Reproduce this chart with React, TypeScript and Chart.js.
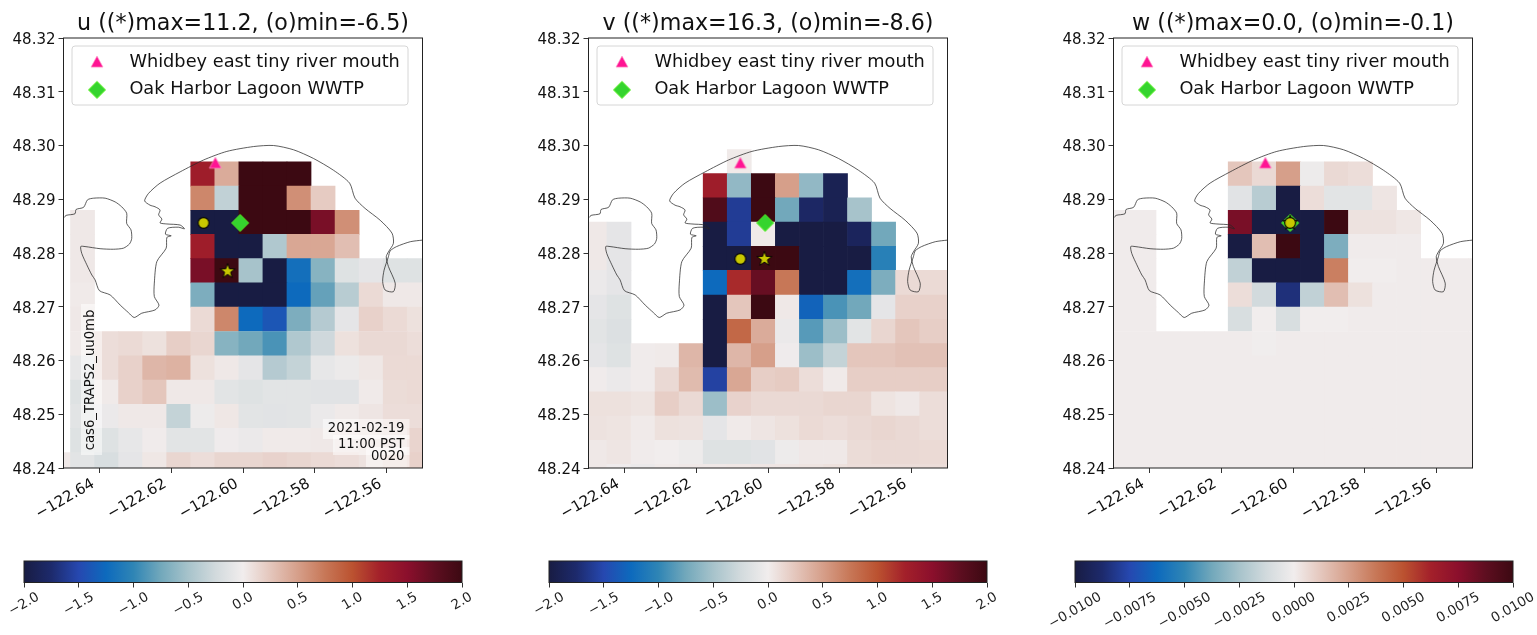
import React, { useEffect, useRef } from "react";
import { Chart, registerables } from "chart.js";

Chart.register(...registerables);

const _ = null;

// grid-cell centres
const lonsU = [-122.6514, -122.6447, -122.638, -122.6313, -122.6246, -122.6179, -122.6112, -122.6045, -122.5978, -122.5911, -122.5844, -122.5777, -122.571, -122.5643, -122.5576, -122.5509];
const latsU = [48.2947, 48.2902, 48.2857, 48.2812, 48.2767, 48.2722, 48.2677, 48.2631, 48.2586, 48.2541, 48.2496, 48.2451, 48.2406];
const lonsV = [-122.6482, -122.6415, -122.6348, -122.6281, -122.6214, -122.6147, -122.608, -122.6013, -122.5946, -122.5879, -122.5812, -122.5745, -122.5678, -122.5611, -122.5544, -122.5477];
const latsV = [48.297, 48.2925, 48.288, 48.2835, 48.279, 48.2745, 48.2699, 48.2654, 48.2609, 48.2564, 48.2519, 48.2474, 48.2429, 48.2384];

const uCells = [
  [_, _, _, _, _, _, 1.3, 0.42, 2, 2, 2, _, _, _, _, _],
  [_, _, _, _, _, _, 0.65, -0.35, 2, 2, 0.6, 0.22, _, _, _, _],
  [_, 0.03, _, _, _, _, -2, -2, 2, 2, 2, 1.6, 0.6, _, _, _],
  [_, 0.03, _, _, _, _, 1.3, -2, -2, -0.45, 0.45, 0.45, 0.3, _, _, _],
  [_, 0.03, _, _, _, _, 1.6, 2, -0.5, -2, -1.2, -0.65, -0.15, -0.1, -0.15, -0.15],
  [_, 0.02, _, _, _, _, -0.7, -2, -2, -2, -1.25, -0.8, -0.4, 0.12, 0.03, 0.03],
  [_, 0.03, _, _, _, _, 0.12, 0.65, -1.25, -1.4, -0.7, -0.42, -0.1, 0.18, 0.12, 0.08],
  [_, 0.02, 0.1, 0.12, 0.08, 0.2, 0.15, -0.65, -0.75, -0.9, -0.45, -0.27, 0.08, 0.13, 0.13, 0.1],
  [_, -0.08, 0.1, 0.18, 0.35, 0.38, 0.08, 0.03, -0.1, -0.42, -0.33, -0.08, -0.04, 0.04, 0.12, 0.12],
  [_, -0.15, 0.02, 0.18, 0.25, 0.03, 0.03, -0.12, -0.15, -0.12, -0.12, -0.13, -0.13, 0.02, 0.11, 0.12],
  [_, -0.12, -0.05, 0.03, 0.03, -0.33, -0.03, 0.04, -0.12, -0.13, -0.12, -0.05, 0.02, 0.05, 0.1, 0.1],
  [_, -0.15, -0.15, -0.08, 0.01, -0.12, -0.12, -0.02, -0.05, 0.02, 0.02, 0.03, 0.05, 0.07, 0.08, 0.16],
  [0.03, -0.12, -0.2, -0.1, 0.04, 0.15, 0.1, 0.15, 0.15, 0.17, 0.15, 0.12, 0.1, 0.07, 0.12, 0.18],
];

const vCells = [
  [_, _, _, _, _, _, 0.02, _, _, _, _, _, _, _, _, _],
  [_, _, _, _, _, 1.3, -0.6, 2, 0.5, -0.6, -1.9, _, _, _, _, _],
  [_, _, _, _, _, 1.85, -1.6, 2, -0.75, -1.8, -1.9, -0.5, _, _, _, _],
  [0.03, -0.1, _, _, _, -2, -1.6, 0.02, -2, -2, -2, -1.85, -0.75, _, _, _],
  [0.03, -0.1, _, _, _, -2, -2, 2, 2, -2, -2, -2, -1.05, _, _, _],
  [-0.05, -0.1, _, _, _, -1.25, 1.2, 1.7, 0.75, -2, -2, -1.2, -0.7, 0.12, 0.12, 0.12],
  [-0.1, -0.15, _, _, _, -2, 0.25, 2, 0.03, -1.3, -0.9, -0.75, -0.1, 0.18, 0.18, 0.18],
  [-0.12, -0.17, _, _, _, -2, 0.85, 0.42, -0.05, -0.85, -0.55, -0.12, 0.15, 0.25, 0.2, 0.2],
  [-0.1, -0.15, 0.01, 0.02, 0.35, -2, 0.35, 0.5, -0.02, -0.55, -0.33, 0.25, 0.25, 0.28, 0.28, 0.28],
  [0.01, -0.05, 0.01, 0.13, 0.32, -1.55, 0.45, 0.2, 0.22, 0.1, 0.02, 0.2, 0.2, 0.2, 0.2, 0.2],
  [0.08, 0.08, 0.06, 0.2, 0.13, -0.55, 0.17, 0.13, 0.13, 0.13, 0.15, 0.15, 0.06, 0.03, 0.1, 0.1],
  [0.07, 0.06, 0.02, 0.08, 0.07, -0.1, 0.02, 0.05, 0.08, 0.12, 0.1, 0.13, 0.15, 0.13, 0.1, 0.1],
  [0.03, 0.05, 0.01, 0.0, -0.03, -0.15, -0.15, -0.13, -0.03, 0.03, 0.03, 0.11, 0.13, 0.13, 0.12, 0.12],
  [0.03, -0.02, -0.05, 0.02, 0.03, 0.03, 0.04, 0.05, 0.05, 0.06, 0.08, 0.1, 0.1, 0.1, 0.1, 0.1],
];

const b = 0.00005; // the near-zero background of the w panel
const wCells = [
  [_, _, _, _, _, 0.00125, 0.00065, 0.0025, -0.00015, 0.00065, 0.0005, _, _, _, _, _],
  [_, _, _, _, _, -0.00065, -0.002, -0.01, 0.0005, -0.0006, -0.0006, 0.00025, _, _, _, _],
  [b, b, _, _, _, 0.008, -0.01, -0.01, -0.01, 0.01, 0.00035, 0.00035, 0.0002, _, _, _],
  [b, b, _, _, _, -0.01, 0.0015, 0.01, -0.01, -0.0035, b, b, b, _, _, _],
  [b, b, _, _, _, -0.00175, -0.01, -0.01, -0.01, 0.0035, 0.0, -0.00002, b, b, b, b],
  [b, b, _, _, _, 0.0005, -0.00125, -0.0085, -0.00175, 0.0015, 0.0004, b, b, b, b, b],
  [b, b, _, _, _, -0.001, 0.0, -0.001, 0.0, 0.0, b, b, b, b, b, b],
  [b, b, b, b, b, b, -0.00003, b, b, b, b, b, b, b, b, b],
  [b, b, b, b, b, b, b, b, b, b, b, b, b, b, b, b],
  [b, b, b, b, b, b, b, b, b, b, b, b, b, b, b, b],
  [b, b, b, b, b, b, b, b, b, b, b, b, b, b, b, b],
  [b, b, b, b, b, b, b, b, b, b, b, b, b, b, b, b],
  [b, b, b, b, b, b, b, b, b, b, b, b, b, b, b, b],
];

const coastLon = [-122.6498, -122.6493, -122.6468, -122.6465, -122.6444, -122.6433, -122.6416, -122.6384, -122.6356, -122.6338, -122.6324, -122.6324, -122.6312, -122.631, -122.6316, -122.6333, -122.6361, -122.6398, -122.644, -122.6452, -122.6449, -122.6435, -122.6421, -122.6412, -122.64, -122.637, -122.6342, -122.6319, -122.6303, -122.6282, -122.6245, -122.6234, -122.6247, -122.6247, -122.624, -122.6214, -122.6212, -122.62, -122.6216, -122.621, -122.618, -122.6163, -122.6175, -122.6212, -122.6231, -122.6226, -122.6235, -122.6231, -122.6245, -122.6259, -122.6274, -122.6263, -122.6231, -122.6175, -122.611, -122.6045, -122.5971, -122.5915, -122.5859, -122.5804, -122.5748, -122.5703, -122.5688, -122.566, -122.5618, -122.5585, -122.5581, -122.5595, -122.5601, -122.5595, -122.5576, -122.5581, -122.5604, -122.5611, -122.5607, -122.5595, -122.559, -122.5572, -122.5534, -122.55];
const coastLat = [48.2866, 48.287, 48.2873, 48.2881, 48.2885, 48.2899, 48.2902, 48.2902, 48.2895, 48.2886, 48.2874, 48.2855, 48.2843, 48.2827, 48.2817, 48.2809, 48.2807, 48.2808, 48.2812, 48.2812, 48.2799, 48.2778, 48.2759, 48.275, 48.273, 48.2722, 48.2703, 48.2689, 48.268, 48.2688, 48.2694, 48.2703, 48.2719, 48.2744, 48.2784, 48.2809, 48.2829, 48.2832, 48.2835, 48.2846, 48.2848, 48.2845, 48.2852, 48.2854, 48.2856, 48.2863, 48.2871, 48.288, 48.2886, 48.2889, 48.2897, 48.2911, 48.293, 48.2951, 48.2973, 48.2989, 48.2998, 48.3, 48.2992, 48.2976, 48.2954, 48.293, 48.2902, 48.2883, 48.2861, 48.2837, 48.2818, 48.2802, 48.2793, 48.2775, 48.2744, 48.2728, 48.2731, 48.2747, 48.2768, 48.2793, 48.2804, 48.2812, 48.2821, 48.2824];

const riverPoint = { x: -122.6077, y: 48.2967 };
const wwtpPoint = { x: -122.6008, y: 48.2856 };
const maxPoints = [{ x: -122.6043, y: 48.2766 }, { x: -122.601, y: 48.2789 }, { x: -122.6008, y: 48.2856 }];
const minPoints = [{ x: -122.611, y: 48.2856 }, { x: -122.6077, y: 48.2789 }, { x: -122.6008, y: 48.2856 }];

const titles = ["u ((*)max=11.2, (o)min=-6.5)", "v ((*)max=16.3, (o)min=-8.6)", "w ((*)max=0.0, (o)min=-0.1)"];
const legendNames = ["Whidbey east tiny river mouth", "Oak Harbor Lagoon WWTP"];
const lonTicks = [-122.64, -122.62, -122.6, -122.58, -122.56];
const latTicks = [48.24, 48.25, 48.26, 48.27, 48.28, 48.29, 48.3, 48.31, 48.32];
const cbarTicksUV = [-2, -1.5, -1, -0.5, 0, 0.5, 1, 1.5, 2];
const cbarTicksW = [-0.01, -0.0075, -0.005, -0.0025, 0, 0.0025, 0.005, 0.0075, 0.01];
const runNote = "cas6_TRAPS2_uu0mb";
const stampLines = ["2021-02-19", "11:00 PST", "0020"];

// balance-like colour map, evenly spaced from -1 to +1
const cmap = ["#181c43", "#1d2a6c", "#2648b0", "#0d6abd", "#2f85b5", "#72a8bb", "#a7c3cb", "#d2dadd", "#f1eded", "#e4c6bc", "#d69f8a", "#c77757", "#bb5230", "#a3202a", "#8b0f2c", "#5e0e20", "#3c0912"];

const FONT = '"DejaVu Sans"';
const HALF_LAT = 0.00226;

function hexRgb(h: string) {
  return [1, 3, 5].map((i) => parseInt(h.slice(i, i + 2), 16));
}
function colorOf(t: number) {
  const p = ((Math.max(-1, Math.min(1, t)) + 1) / 2) * (cmap.length - 1);
  const i = Math.min(cmap.length - 2, Math.floor(p));
  const f = p - i;
  const a = hexRgb(cmap[i]);
  const c = hexRgb(cmap[i + 1]);
  return `rgb(${a.map((v, k) => Math.round(v + (c[k] - v) * f)).join(",")})`;
}

function markerCanvas(kind: "triangle" | "diamond" | "star" | "circle") {
  const c = document.createElement("canvas");
  c.width = 24;
  c.height = 24;
  const g = c.getContext("2d")!;
  g.translate(12, 12);
  g.beginPath();
  if (kind === "triangle") {
    g.moveTo(0, -6);
    g.lineTo(6, 5);
    g.lineTo(-6, 5);
    g.closePath();
    g.fillStyle = "#ff1493";
    g.fill();
    g.strokeStyle = "rgba(255,150,200,0.7)";
    g.lineWidth = 1;
    g.stroke();
  } else if (kind === "diamond") {
    g.moveTo(0, -8.5);
    g.lineTo(8.5, 0);
    g.lineTo(0, 8.5);
    g.lineTo(-8.5, 0);
    g.closePath();
    g.fillStyle = "#35d42e";
    g.fill();
    g.strokeStyle = "#55f020";
    g.lineWidth = 1;
    g.stroke();
  } else if (kind === "star") {
    for (let i = 0; i < 10; i++) {
      const r = i % 2 ? 3.1 : 7.8;
      const a = (i * Math.PI) / 5;
      g.lineTo(Math.sin(a) * r, -Math.cos(a) * r);
    }
    g.closePath();
    g.fillStyle = "#c8c800";
    g.fill();
    g.strokeStyle = "#000";
    g.lineWidth = 0.9;
    g.stroke();
  } else {
    g.arc(0, 0, 5.4, 0, Math.PI * 2);
    g.fillStyle = "#c8c800";
    g.fill();
    g.strokeStyle = "#000";
    g.lineWidth = 1.1;
    g.stroke();
  }
  return c;
}

const frame = {
  id: "frame",
  afterDraw(chart: any) {
    const { ctx, chartArea: a } = chart;
    ctx.save();
    ctx.strokeStyle = "#222";
    ctx.lineWidth = 1;
    ctx.strokeRect(a.left, a.top, a.right - a.left, a.bottom - a.top);
    ctx.restore();
  },
};

const legendBox = {
  id: "legendBox",
  beforeDraw(chart: any) {
    const { ctx, chartArea: a } = chart;
    ctx.save();
    ctx.beginPath();
    ctx.roundRect(a.left + 8.5, a.top + 8, 336, 59, 3);
    ctx.fillStyle = "#fff";
    ctx.fill();
    ctx.strokeStyle = "#d6d6d6";
    ctx.lineWidth = 1;
    ctx.stroke();
    ctx.restore();
  },
};

const notes = {
  id: "notes",
  afterDatasetsDraw(chart: any) {
    const { ctx, chartArea: a } = chart;
    ctx.save();
    ctx.font = `13.2px ${FONT}`;
    ctx.fillStyle = "rgba(255,255,255,0.5)";
    ctx.fillRect(a.left + 17.5, a.top + 266, 21, 151);
    ctx.save();
    ctx.translate(a.left + 27.5, a.top + 342);
    ctx.rotate(-Math.PI / 2);
    ctx.fillStyle = "#111";
    ctx.textAlign = "center";
    ctx.textBaseline = "middle";
    ctx.fillText(runNote, 0, 0);
    ctx.restore();
    const ys = [391, 407, 419];
    stampLines.forEach((t, i) => {
      const w = ctx.measureText(t).width;
      ctx.fillStyle = "rgba(255,255,255,0.5)";
      ctx.fillRect(a.right - 18 - w - 5, a.top + ys[i] - 10, w + 10, 20);
    });
    stampLines.forEach((t, i) => {
      ctx.fillStyle = "#111";
      ctx.textAlign = "right";
      ctx.textBaseline = "middle";
      ctx.fillText(t, a.right - 18, a.top + ys[i]);
    });
    ctx.restore();
  },
};

const cbarLabels = {
  id: "cbarLabels",
  afterDraw(chart: any) {
    const { ctx } = chart;
    const s = chart.scales.x;
    const dec = chart.options.plugins.cbarLabels.decimals;
    ctx.save();
    ctx.font = `13.5px ${FONT}`;
    ctx.fillStyle = "#222";
    ctx.textAlign = "center";
    ctx.textBaseline = "middle";
    const ang = Math.PI / 6;
    s.ticks.forEach((t: any) => {
      const text = (t.value < 0 ? "\u2212" : "") + Math.abs(t.value).toFixed(dec);
      const w = ctx.measureText(text).width;
      const h = w * Math.sin(ang) + 13 * Math.cos(ang);
      ctx.save();
      ctx.translate(s.getPixelForValue(t.value), chart.chartArea.bottom + 8 + h / 2);
      ctx.rotate(-ang);
      ctx.fillText(text, 0, 0);
      ctx.restore();
    });
    ctx.restore();
  },
};

function cellData(lons: number[], lats: number[], cells: (number | null)[][], limit: number) {
  const out: any[] = [];
  cells.forEach((row, j) =>
    row.forEach((v, i) => {
      if (v !== null) out.push({ x: lons[i], y: [lats[j] - HALF_LAT, lats[j] + HALF_LAT], c: colorOf(v / limit) });
    })
  );
  return out;
}

const panelData = [
  { lons: lonsU, lats: latsU, cells: uCells, limit: 2, ticks: cbarTicksUV, dec: 1 },
  { lons: lonsV, lats: latsV, cells: vCells, limit: 2, ticks: cbarTicksUV, dec: 1 },
  { lons: lonsV, lats: latsU, cells: wCells, limit: 0.01, ticks: cbarTicksW, dec: 4 },
];

const panelLeft = [0, 525, 1050];
const cbarPad = [24, 24, 25];

function mainChart(canvas: HTMLCanvasElement, k: number) {
  const p = panelData[k];
  const coast = coastLon.map((x, i) => ({ x, y: coastLat[i] }));
  return new Chart(canvas, {
    type: "bar",
    data: {
      datasets: [
        {
          label: "cells",
          data: cellData(p.lons, p.lats, p.cells, p.limit),
          backgroundColor: (c: any) => c.raw?.c,
          borderWidth: 0,
          grouped: false,
          categoryPercentage: 1,
          barPercentage: 1,
          order: 5,
        },
        { type: "line", label: "coast", data: coast, borderColor: "rgba(40,40,40,0.75)", borderWidth: 1, pointRadius: 0, tension: 0.25, order: 4 },
        { type: "scatter", label: legendNames[0], data: [riverPoint], pointStyle: markerCanvas("triangle"), backgroundColor: "#ff1493", order: 3 },
        { type: "scatter", label: legendNames[1], data: [wwtpPoint], pointStyle: markerCanvas("diamond"), backgroundColor: "#35d42e", order: 2 },
        { type: "scatter", label: "max", data: [maxPoints[k]], pointStyle: markerCanvas("star"), order: 1 },
        { type: "scatter", label: "min", data: [minPoints[k]], pointStyle: markerCanvas("circle"), order: 0 },
      ] as any,
    },
    options: {
      animation: false,
      responsive: false,
      layout: { padding: { left: 0, right: 63.5, top: 0, bottom: 0 } },
      scales: {
        x: {
          type: "linear",
          min: -122.65,
          max: -122.55,
          offset: false,
          grid: { drawOnChartArea: false, tickLength: 5, tickColor: "#333", offset: false },
          border: { display: false },
          afterBuildTicks: (s: any) => {
            s.ticks = lonTicks.map((value) => ({ value }));
          },
          afterFit: (s: any) => {
            s.height = 72;
          },
          ticks: {
            minRotation: 30,
            maxRotation: 30,
            padding: 2,
            labelOffset: -6,
            color: "#111",
            font: { family: FONT, size: 15 },
            callback: (v: any) => "\u2212" + Math.abs(v).toFixed(2),
          },
        },
        y: {
          type: "linear",
          min: 48.24,
          max: 48.32,
          grid: { drawOnChartArea: false, tickLength: 5, tickColor: "#333" },
          border: { display: false },
          afterBuildTicks: (s: any) => {
            s.ticks = latTicks.map((value) => ({ value }));
          },
          afterFit: (s: any) => {
            s.width = 63.5;
          },
          ticks: { padding: 3, labelOffset: 2, color: "#111", font: { family: FONT, size: 15 }, callback: (v: any) => Number(v).toFixed(2) },
        },
      },
      plugins: {
        tooltip: { enabled: false },
        title: {
          display: true,
          text: titles[k],
          color: "#111",
          fullSize: false,
          font: { family: FONT, size: 22.2, weight: "normal" },
          padding: { top: 11, bottom: 0.36 },
        },
        legend: {
          position: "chartArea",
          align: "start",
          title: { display: true, text: " ", font: { size: 1 }, padding: { top: 21, bottom: 21 } },
          labels: {
            usePointStyle: true,
            pointStyleWidth: 47,
            padding: 10,
            color: "#111",
            font: { family: FONT, size: 17.75 },
            filter: (it: any) => legendNames.includes(it.text),
            sort: (a: any, c: any) => a.datasetIndex - c.datasetIndex,
          },
        },
      } as any,
    },
    plugins: k === 0 ? [legendBox, frame, notes] : [legendBox, frame],
  } as any);
}

function cbarChart(canvas: HTMLCanvasElement, k: number) {
  const p = panelData[k];
  const lim = p.ticks[p.ticks.length - 1];
  return new Chart(canvas, {
    type: "bar",
    data: {
      labels: [""],
      datasets: [
        {
          data: [[-lim, lim]],
          borderWidth: 0,
          inflateAmount: 0,
          categoryPercentage: 1,
          barPercentage: 1,
          backgroundColor: (c: any) => {
            const a = c.chart.chartArea;
            if (!a) return "#888";
            const g = c.chart.ctx.createLinearGradient(a.left, 0, a.right, 0);
            cmap.forEach((col, i) => g.addColorStop(i / (cmap.length - 1), col));
            return g;
          },
        },
      ],
    },
    options: {
      indexAxis: "y",
      animation: false,
      responsive: false,
      layout: { padding: { left: cbarPad[k], right: 48 - cbarPad[k], top: 16, bottom: 0 } },
      scales: {
        x: {
          type: "linear",
          min: -lim,
          max: lim,
          grid: { drawOnChartArea: false, tickLength: 5, tickColor: "#333" },
          border: { display: false },
          afterBuildTicks: (s: any) => {
            s.ticks = p.ticks.map((value) => ({ value }));
          },
          afterFit: (s: any) => {
            s.height = 52.5;
          },
          ticks: { display: false },
        },
        y: { display: false },
      },
      plugins: { legend: { display: false }, tooltip: { enabled: false }, cbarLabels: { decimals: p.dec } },
    } as any,
    plugins: [frame, cbarLabels],
  } as any);
}

export default function App() {
  const mains = useRef<(HTMLCanvasElement | null)[]>([]);
  const bars = useRef<(HTMLCanvasElement | null)[]>([]);
  useEffect(() => {
    document.body.style.margin = "0";
    const charts = [0, 1, 2].flatMap((k) => [mainChart(mains.current[k]!, k), cbarChart(bars.current[k]!, k)]);
    return () => charts.forEach((c) => c.destroy());
  }, []);
  const soft = "blur(0.35px)";
  return (
    <div style={{ position: "relative", width: 1537, height: 635, overflow: "hidden", background: "#fff" }}>
      {panelLeft.map((left, k) => (
        <React.Fragment key={k}>
          <canvas ref={(el) => { mains.current[k] = el; }} width={486} height={540} style={{ position: "absolute", left, top: 0, filter: soft }} />
          <canvas ref={(el) => { bars.current[k] = el; }} width={486} height={90} style={{ position: "absolute", left, top: 545, filter: soft }} />
        </React.Fragment>
      ))}
    </div>
  );
}
